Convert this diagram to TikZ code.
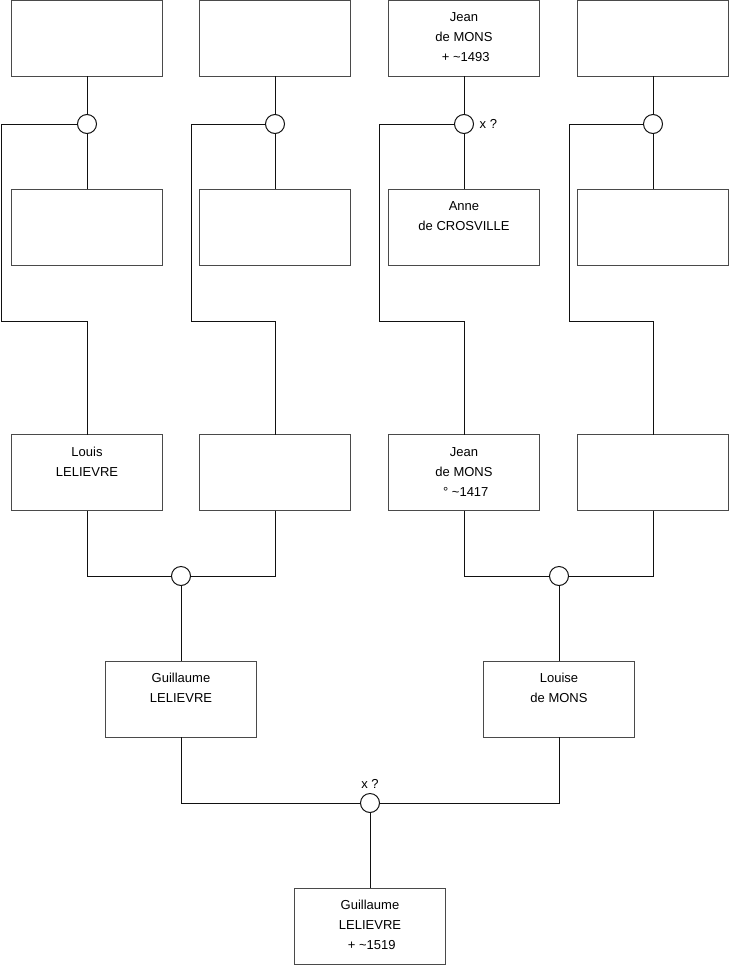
\documentclass[tikz,border=0pt]{standalone}
\usepackage{fontspec}
\setmainfont{Liberation Sans}
\usepackage{xcolor}
\usetikzlibrary{calc}
\definecolor{boxgray}{HTML}{4A4A4A}
\definecolor{linkblack}{HTML}{111111}
\newcommand{\fiche}[1]{\parbox[c][76pt][t]{151pt}{\centering\vspace*{7.5pt}\strut#1}}
\newcommand{\lead}{\hspace*{.278em}}
\tikzset{
  person/.style={draw=boxgray,line width=1pt,inner sep=0pt,outer sep=0pt,
    font=\fontsize{13}{20}\selectfont},
  union/.style={circle,draw=linkblack,fill=white,line width=1pt,
    minimum size=19pt,inner sep=0pt,outer sep=0pt},
  link/.style={linkblack,line width=1pt},
  note/.style={font=\fontsize{13}{16}\selectfont,inner sep=0pt}
}

\begin{document}
\begin{tikzpicture}[x=1pt,y=-1pt]
  \useasboundingbox (0,0) rectangle (740,975);
  % ancestors, top row
  \node[person] (a1) at (87,38) {\fiche{}};
  \node[person] (a2) at (275,38) {\fiche{}};
  \node[person] (a3) at (464,38) {\fiche{Jean\\de MONS\\\lead+ \textasciitilde1493}};
  \node[person] (a4) at (653,38) {\fiche{}};
  % spouses
  \node[person] (b1) at (87,227) {\fiche{}};
  \node[person] (b2) at (275,227) {\fiche{}};
  \node[person] (b3) at (464,227) {\fiche{Anne\\de CROSVILLE}};
  \node[person] (b4) at (653,227) {\fiche{}};
  % children
  \node[person] (c1) at (87,472.5) {\fiche{Louis\\LELIEVRE}};
  \node[person] (c2) at (275,472.5) {\fiche{}};
  \node[person] (c3) at (464,472.5) {\fiche{Jean\\de MONS\\\lead\textdegree\ \textasciitilde1417}};
  \node[person] (c4) at (653,472.5) {\fiche{}};
  \node[person] (d1) at (181,699) {\fiche{Guillaume\\LELIEVRE}};
  \node[person] (d2) at (559,699) {\fiche{Louise\\de MONS}};
  \node[person] (e) at (370,926) {\fiche{Guillaume\\LELIEVRE\\\lead+ \textasciitilde1519}};
  % marriages
  \node[union] (u1) at (87,124) {};
  \node[union] (u2) at (275,124) {};
  \node[union] (u3) at (464,124) {};
  \node[union] (u4) at (653,124) {};
  \node[union] (v1) at (181,576) {};
  \node[union] (v2) at (559,576) {};
  \node[union] (w) at (370,803) {};
  \node[note,anchor=west] (q3) at ([xshift=6pt]u3.east) {x ?};
  \node[note,anchor=south] (qw) at ([yshift=5pt]w.north) {x ?};
  % bends of the descent lines
  \coordinate (k1) at (1.5,321);
  \coordinate (k2) at (191,321);
  \coordinate (k3) at (379.5,321);
  \coordinate (k4) at (569,321);
  \foreach \i in {1,2,3,4} {
    \draw[link] (a\i.south) -- (u\i.north);
    \draw[link] (u\i.south) -- (b\i.north);
    \draw[link] (u\i.west) -| (k\i) -| (c\i.north);
  }
  \draw[link] (c1.south) |- (v1.west);
  \draw[link] (c2.south) |- (v1.east);
  \draw[link] (v1.south) -- (d1.north);
  \draw[link] (c3.south) |- (v2.west);
  \draw[link] (c4.south) |- (v2.east);
  \draw[link] (v2.south) -- (d2.north);
  \draw[link] (d1.south) |- (w.west);
  \draw[link] (d2.south) |- (w.east);
  \draw[link] (w.south) -- (e.north);
\end{tikzpicture}
\end{document}
